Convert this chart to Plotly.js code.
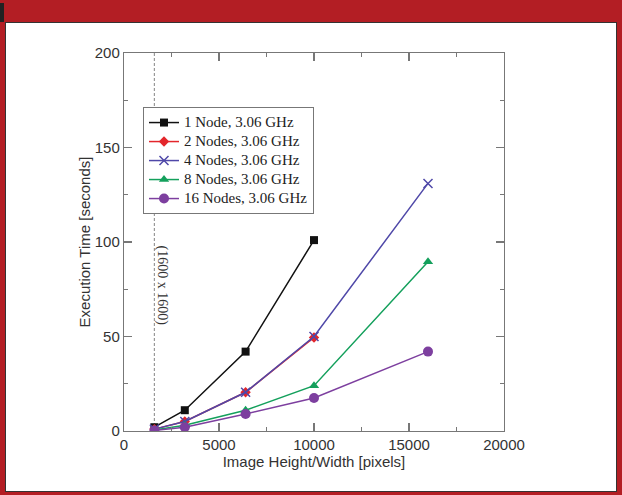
<!DOCTYPE html>
<html>
<head>
<meta charset="utf-8">
<script src="https://cdn.plot.ly/plotly-3.0.1.min.js"></script>
<style>
  html, body { margin: 0; padding: 0; }
  body { width: 622px; height: 495px; background: #b31e24; position: relative; overflow: hidden; }
  #corner { position: absolute; left: 0; top: 3px; width: 4px; height: 19px; background: #222; }
  #frame { position: absolute; left: 5px; top: 22px; width: 610px; height: 468px; background: #fff; border: 1px solid #333; }
  #chart { position: absolute; left: 0; top: 0; width: 622px; height: 495px; }
</style>
</head>
<body>
<div id="corner"></div>
<div id="frame"></div>
<div id="chart"></div>
<script>
// Data
const sizes = [1600, 3200, 6400, 10000, 16000];
const node1 = [2, 11, 42, 101];
const node2 = [1, 5, 20.5, 49.5];
const node4 = [1, 5, 20.5, 50, 131];
const node8 = [0.5, 3, 11, 24, 89.5];
const node16 = [0.3, 2, 9, 17.5, 42];
const seriesNames = ["1 Node, 3.06 GHz", "2 Nodes, 3.06 GHz", "4 Nodes, 3.06 GHz", "8 Nodes, 3.06 GHz", "16 Nodes, 3.06 GHz"];
const markerLine = 1600;
const annotationText = "(1600 x 1600)";
const xTitle = "Image Height/Width [pixels]";
const yTitle = "Execution Time [seconds]";

const colors = ["#111111", "#e3262b", "#4f48a8", "#14a05c", "#7d3f9f"];
const symbols = ["square", "diamond", "x-thin-open", "triangle-up", "circle"];
const msizes = [8, 8, 9, 9, 10];
const values = [node1, node2, node4, node8, node16];

const traces = values.map((v, i) => ({
  x: sizes.slice(0, v.length),
  y: v,
  name: '<span style="font-size:15px">' + seriesNames[i] + '</span>',
  type: "scatter",
  mode: "lines+markers",
  line: { color: colors[i], width: 1.5 },
  marker: { color: colors[i], symbol: symbols[i], size: msizes[i],
            line: { color: colors[i], width: i === 2 ? 1.5 : 0 } }
}));

const axisCommon = {
  showline: true, linecolor: "#777", linewidth: 1.2, mirror: "ticks",
  ticks: "inside", ticklen: 8, tickcolor: "#777", tickwidth: 1.2,
  showgrid: false, zeroline: false, tickformat: "d",
  tickfont: { family: "Liberation Sans, Arial, sans-serif", size: 15, color: "#333" }
};

const layout = {
  width: 622, height: 495,
  paper_bgcolor: "rgba(0,0,0,0)", plot_bgcolor: "rgba(0,0,0,0)",
  margin: { l: 124, r: 118, t: 53, b: 64 },
  showlegend: true,
  xaxis: Object.assign({}, axisCommon, {
    range: [0, 20000], dtick: 5000, tick0: 0,
    minor: { dtick: 2500, ticks: "inside", ticklen: 4, tickcolor: "#777", tickwidth: 1.2 },
    title: { text: xTitle, standoff: 4, font: { family: "Liberation Sans, Arial, sans-serif", size: 15, color: "#333" } }
  }),
  yaxis: Object.assign({}, axisCommon, {
    range: [0, 200], dtick: 50, tick0: 0,
    minor: { dtick: 25, ticks: "inside", ticklen: 4, tickcolor: "#777", tickwidth: 1.2 },
    title: { text: yTitle, standoff: 0, font: { family: "Liberation Sans, Arial, sans-serif", size: 15, color: "#333" } }
  }),
  legend: {
    x: 0.05, y: 0.857, xanchor: "left", yanchor: "top",
    bgcolor: "#fff", bordercolor: "#777", borderwidth: 1,
    font: { family: "Liberation Serif, Times New Roman, serif", size: 12, color: "#222" },
    itemwidth: 30, tracegroupgap: 0
  },
  shapes: [{
    type: "line", xref: "x", yref: "y", x0: markerLine, x1: markerLine, y0: 0, y1: 200,
    line: { color: "#999", width: 1.2, dash: "3px,2px" }, layer: "below"
  }],
  annotations: [{
    xref: "x", yref: "y", x: 2000, y: 77, text: annotationText, showarrow: false,
    textangle: 90, font: { family: "Liberation Serif, Times New Roman, serif", size: 14, color: "#333" }
  }]
};

Plotly.newPlot("chart", traces, layout, { displayModeBar: false, staticPlot: true });
</script>
</body>
</html>
